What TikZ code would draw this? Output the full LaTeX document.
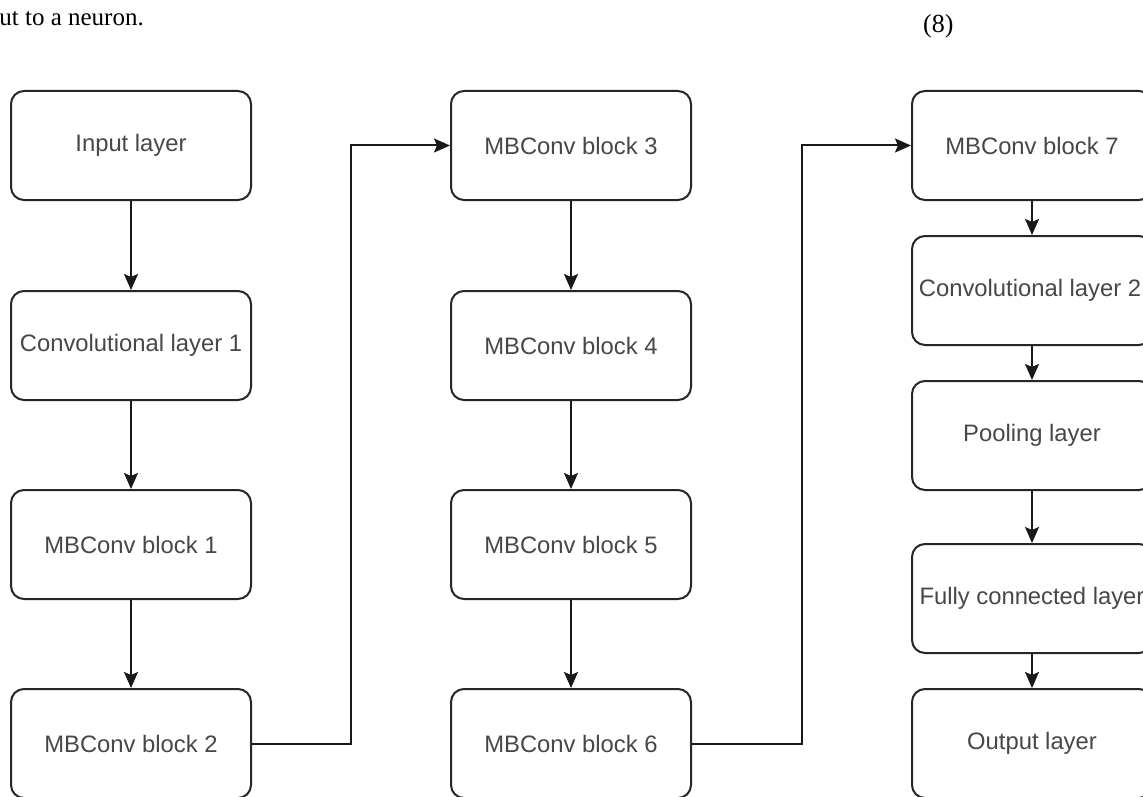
\documentclass[tikz,border=0pt]{standalone}
\usepackage{fontspec}
\setmainfont{Liberation Serif}
\newfontfamily\boxfont{Liberation Sans}
\usetikzlibrary{arrows.meta}
\begin{document}
\begin{tikzpicture}[x=1pt,y=-1pt,
  blk/.style={draw=black!85, line width=2pt, rounded corners=13pt, fill=white,
    minimum width=240pt, minimum height=109pt, inner sep=0pt,
    font=\boxfont\fontsize{23.8}{28}\selectfont, text=black!72},
  arr/.style={draw=black!90, line width=2pt,
    -{Stealth[length=16pt,width=14pt,inset=3pt]}},
  prose/.style={font=\fontsize{25}{30}\selectfont, text=black, inner sep=0pt}]
\useasboundingbox (0,0) rectangle (1143,797);
\fill[white] (0,0) rectangle (1143,797);
\node[prose, anchor=base east] (t1) at (144,26) {ut to a neuron.};
\node[prose, anchor=base west, font=\fontsize{26}{30}\selectfont] (t2) at (923,33) {(8)};
% left column
\node[blk] (in) at (131,145.5) {Input layer};
\node[blk] (c1) at (131,345.5) {Convolutional layer 1};
\node[blk] (b1) at (131,544.5) {MBConv block 1};
\node[blk] (b2) at (131,743.5) {MBConv block 2};
% middle column
\node[blk] (b3) at (571,145.5) {MBConv block 3};
\node[blk] (b4) at (571,345.5) {MBConv block 4};
\node[blk] (b5) at (571,544.5) {MBConv block 5};
\node[blk] (b6) at (571,743.5) {MBConv block 6};
% right column
\node[blk] (b7) at (1032,145.5) {MBConv block 7};
\node[blk] (c2) at (1032,290.5) {\hspace*{-4pt}Convolutional layer 2};
\node[blk] (pl) at (1032,435.5) {Pooling layer};
\node[blk] (fc) at (1032,598.5) {Fully connected layer};
\node[blk] (out) at (1032,743.5) {Output layer};
% connectors
\draw[arr] (in) -- (c1);
\draw[arr] (c1) -- (b1);
\draw[arr] (b1) -- (b2);
\draw[arr] (b2.east) -- ++(99,0) |- (b3.west);
\draw[arr] (b3) -- (b4);
\draw[arr] (b4) -- (b5);
\draw[arr] (b5) -- (b6);
\draw[arr] (b6.east) -- ++(110,0) |- (b7.west);
\draw[arr] (b7) -- (c2);
\draw[arr] (c2) -- (pl);
\draw[arr] (pl) -- (fc);
\draw[arr] (fc) -- (out);
\end{tikzpicture}
\end{document}
